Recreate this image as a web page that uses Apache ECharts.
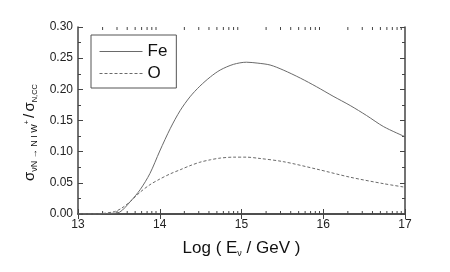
<!DOCTYPE html>
<html><head><meta charset="utf-8">
<script src="https://cdn.jsdelivr.net/npm/echarts@6/dist/echarts.min.js"></script>
<style>html,body{margin:0;padding:0;background:#fff}#c{width:450px;height:272px}</style>
</head><body><div id="c"></div>
<script>
const seriesNames = ['Fe', 'O'];
const feData = [[13.0,0],[13.25,0],[13.30,0.0005],[13.40,0.001],[13.51,0.003],[13.64,0.020],[13.76,0.039],[13.88,0.065],[14.0,0.101],[14.13,0.1375],[14.25,0.166],[14.37,0.188],[14.49,0.205],[14.62,0.220],[14.74,0.231],[14.90,0.240],[15.06,0.2435],[15.20,0.242],[15.35,0.2390],[15.51,0.231],[15.72,0.218],[15.92,0.204],[16.12,0.189],[16.33,0.174],[16.53,0.158],[16.74,0.140],[17.0,0.124]];
const oData = [[13.0,0],[13.25,0],[13.30,0.0007],[13.45,0.004],[13.53,0.009],[13.64,0.020],[13.76,0.035],[13.88,0.047],[14.0,0.056],[14.13,0.0645],[14.25,0.071],[14.37,0.0775],[14.49,0.083],[14.62,0.087],[14.74,0.0897],[14.90,0.0912],[15.06,0.0912],[15.20,0.0895],[15.51,0.084],[15.92,0.072],[16.33,0.059],[16.74,0.0486],[17.0,0.043]];
const xTicks = [13, 14, 15, 16, 17];
const yTicks = [0, 0.05, 0.10, 0.15, 0.20, 0.25, 0.30];
// log-spaced minor ticks within each decade (2..9)
const minorX = [];
for (let d = 13; d < 17; d++) for (let k = 2; k <= 9; k++) minorX.push(d + Math.log10(k));

const axisColor = '#444';
const lineColor = '#6a6a6a';
const font = 'Liberation Sans, Arial, sans-serif';

const chart = echarts.init(document.getElementById('c'), null, {renderer: 'canvas'});
chart.setOption({
  animation: false,
  backgroundColor: '#fff',
  grid: {left: 78, right: 45, top: 27, bottom: 58},
  legend: {
    orient: 'vertical', left: 91, top: 35,
    data: seriesNames,
    borderColor: '#555', borderWidth: 1,
    padding: [8, 9, 6, 8], itemGap: 5,
    itemWidth: 43, itemHeight: 14,
    itemStyle: {opacity: 0},
    lineStyle: {width: 1, color: lineColor},
    textStyle: {fontFamily: font, fontSize: 17, color: '#111'}
  },
  xAxis: [{
    type: 'value', min: xTicks[0], max: xTicks[xTicks.length-1], interval: 1,
    axisLine: {lineStyle: {color: axisColor, width: 1.5}},
    axisTick: {inside: true, length: 5, lineStyle: {color: axisColor}},
    splitLine: {show: false},
    axisLabel: {fontFamily: font, fontSize: 12, color: '#222', margin: 5},
    name: '{t|Log ( E}{sub|ν}{t| / GeV )}',
    nameLocation: 'middle', nameGap: 25,
    nameTextStyle: {rich: {
      t: {fontFamily: font, fontSize: 17, color: '#111'},
      sub: {fontFamily: font, fontSize: 9, color: '#111', verticalAlign: 'bottom', padding: [10, 0, 0, 0]}
    }}
  }, {
    type: 'value', position: 'top', min: xTicks[0], max: xTicks[xTicks.length-1], interval: 1,
    axisLine: {lineStyle: {color: axisColor, width: 1.5}},
    axisTick: {inside: true, length: 5, lineStyle: {color: axisColor}},
    axisLabel: {show: false}, splitLine: {show: false}
  }],
  yAxis: [{
    type: 'value', min: yTicks[0], max: yTicks[yTicks.length-1], interval: 0.05,
    axisLine: {show: true, lineStyle: {color: axisColor, width: 1.5}},
    axisTick: {show: true, inside: true, length: 5, lineStyle: {color: axisColor}},
    minorTick: {show: true, splitNumber: 2, length: 3, lineStyle: {color: axisColor}},
    splitLine: {show: false},
    axisLabel: {fontFamily: font, fontSize: 12, color: '#222', margin: 5, formatter: v => v.toFixed(2)},
    name: '{s|σ}{sub|νN → N I W}{sup|+}{g| }{sl|/}{g| }{s|σ}{sub2|N,CC}',
    nameLocation: 'middle', nameRotate: 90, nameGap: 31,
    nameTextStyle: {padding: [0, 24, 0, 0], rich: {
      s: {fontFamily: font, fontSize: 15, color: '#111'},
      sl: {fontFamily: font, fontSize: 15, color: '#111'},
      g: {fontFamily: font, fontSize: 8},
      sub: {fontFamily: font, fontSize: 9, color: '#111', verticalAlign: 'bottom', padding: [9, 0, 0, 0]},
      sub2: {fontFamily: font, fontSize: 7.5, color: '#111', verticalAlign: 'bottom', padding: [9, 0, 0, 0]},
      sup: {fontFamily: font, fontSize: 7, color: '#111', padding: [0, 0, 6, 0]}
    }}
  }, {
    type: 'value', position: 'right', min: yTicks[0], max: yTicks[yTicks.length-1], interval: 0.05,
    axisLine: {show: true, lineStyle: {color: axisColor, width: 1.5}},
    axisTick: {show: true, inside: true, length: 5, lineStyle: {color: axisColor}},
    minorTick: {show: true, splitNumber: 2, length: 3, lineStyle: {color: axisColor}},
    axisLabel: {show: false}, splitLine: {show: false}
  }],
  series: [{
    name: 'Fe', type: 'line', data: feData, smooth: 0.3, symbol: 'none',
    lineStyle: {color: lineColor, width: 1}, itemStyle: {color: lineColor}
  }, {
    name: 'O', type: 'line', data: oData, smooth: 0.3, symbol: 'none',
    lineStyle: {color: lineColor, width: 1, type: [3, 2]}, itemStyle: {color: lineColor}
  }, {
    type: 'custom', silent: true, clip: false,
    data: minorX.map(v => [v]),
    renderItem: function (params, api) {
      const x = api.value(0);
      const b = api.coord([x, yTicks[0]]);
      const t = api.coord([x, yTicks[yTicks.length-1]]);
      const st = {stroke: axisColor, lineWidth: 1};
      return {type: 'group', children: [
        {type: 'line', shape: {x1: b[0], y1: b[1], x2: b[0], y2: b[1] - 3}, style: st},
        {type: 'line', shape: {x1: t[0], y1: t[1], x2: t[0], y2: t[1] + 3}, style: st}
      ]};
    }
  }]
});
</script></body></html>
